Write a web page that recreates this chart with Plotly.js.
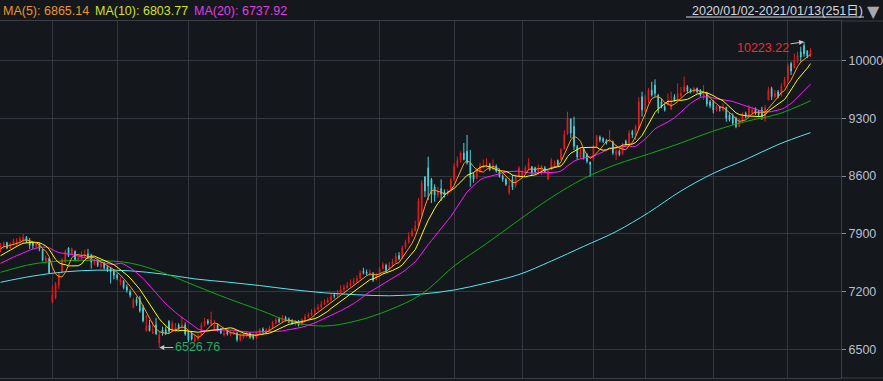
<!DOCTYPE html>
<html><head><meta charset="utf-8">
<script src="https://cdn.plot.ly/plotly-3.0.1.min.js"></script>
<style>html,body{margin:0;padding:0;background:#14171c;overflow:hidden}#c{width:883px;height:381px}</style>
</head><body><div id="c"></div>
<script>
// ---- data (trading days 2020/01/02 - 2021/01/13, 251 days) ----
const prevCloses = [7380,7400,7430,7420,7450,7470,7460,7490,7510,7520,7530,7540,7560,7570,7580,7650,7700,7720,7760];
const closes = [
7760,7790,7730,7780,7820,7810,7840,7860,7810,7760,
7760,7790,7720,7580,7610,7430,7160,7300,7420,7590,
7690,7640,7720,7590,7610,7640,7660,7620,7560,7580,
7520,7540,7490,7470,7440,7400,7370,7340,7250,7220,
7160,7100,7060,6970,6850,6780,6730,6720,6690,6680,
6700,6690,6720,6820,6770,6760,6800,6690,6620,6630,
6640,6660,6800,6840,6820,6860,6800,6740,6700,6700,
6690,6700,6710,6620,6670,6680,6700,6650,6640,6700,
6740,6720,6740,6760,6830,6860,6840,6880,6860,6840,
6820,6830,6800,6860,6900,6920,6950,6980,7010,7050,
7070,7100,7140,7150,7190,7230,7250,7280,7300,7330,
7360,7430,7430,7420,7430,7340,7410,7480,7530,7460,
7520,7560,7630,7600,7730,7800,7870,7930,8000,8300,
8520,8420,8480,8380,8370,8420,8380,8370,8410,8560,
8720,8790,8880,8800,8760,8580,8560,8660,8720,8720,
8740,8680,8720,8660,8600,8560,8500,8480,8470,8600,
8700,8640,8700,8760,8640,8650,8700,8720,8650,8660,
8790,8760,8740,8920,9100,9300,9120,8960,8830,8900,
8820,8780,8740,8960,9080,9040,9020,9000,9040,8880,
8900,8860,8960,8990,9120,9100,9200,9500,9400,9560,
9640,9580,9600,9420,9440,9400,9510,9480,9520,9600,
9600,9680,9630,9620,9660,9620,9580,9620,9470,9450,
9400,9440,9420,9440,9300,9280,9240,9200,9280,9350,
9330,9420,9400,9360,9340,9320,9430,9640,9560,9600,
9560,9690,9760,9930,9870,10000,10060,10040,10080,10050,10120];
const opens = [
7700,7750,7795,7730,7780,7790,7810,7830,7860,7820,
7790,7750,7780,7710,7570,7600,7080,7130,7280,7440,
7560,7730,7650,7690,7590,7600,7630,7660,7640,7540,
7580,7510,7540,7500,7480,7450,7400,7320,7330,7260,
7200,7010,7110,7120,7010,6730,6800,6700,6800,6580,
6740,6740,6840,6730,6720,6800,6770,6800,6720,6700,
6600,6630,6680,6790,6850,6810,6750,6800,6750,6680,
6720,6680,6690,6700,6620,6650,6670,6700,6670,6640,
6690,6750,6720,6730,6760,6820,6870,6840,6890,6870,
6850,6810,6840,6800,6860,6900,6920,6950,6990,7010,
7050,7070,7100,7160,7150,7190,7230,7250,7280,7300,
7330,7360,7450,7440,7410,7420,7350,7420,7480,7520,
7470,7520,7560,7640,7610,7740,7800,7880,7940,8000,
8140,8589,8700,8560,8470,8370,8450,8410,8380,8420,
8560,8720,8790,8880,8900,8760,8620,8580,8660,8700,
8720,8740,8680,8720,8660,8600,8560,8400,8560,8480,
8600,8590,8650,8690,8713,8700,8640,8660,8700,8560,
8680,8730,8790,8800,8930,9110,9290,9200,8960,8830,
8930,8860,8770,8800,8960,9070,9050,9030,9016,9016,
8860,8900,8870,9020,8990,9140,9100,9180,9560,9380,
9520,9640,9700,9580,9500,9440,9460,9410,9560,9520,
9570,9620,9680,9650,9620,9660,9640,9560,9600,9500,
9500,9400,9440,9400,9430,9340,9330,9300,9200,9270,
9360,9330,9360,9420,9380,9400,9290,9520,9660,9560,
9620,9580,9700,9760,9960,9910,9990,10100,10180,10110,10064];
const highs = [
7790,7810,7805,7795,7840,7850,7870,7900,7875,7850,
7800,7810,7790,7720,7640,7610,7280,7320,7440,7610,
7710,7740,7735,7700,7640,7690,7710,7720,7660,7600,
7600,7560,7560,7520,7500,7470,7420,7380,7340,7290,
7230,7125,7140,7150,7040,6920,6860,6840,6884,6718,
6778,6778,6859,6850,6823,6820,6900,6830,6738,6720,
6680,6690,6830,6884,6870,6960,6860,6820,6760,6730,
6740,6730,6740,6718,6700,6700,6720,6710,6690,6720,
6760,6770,6760,6790,6850,6890,6890,6920,6910,6890,
6870,6860,6860,6880,6930,6950,6990,7010,7050,7090,
7110,7130,7180,7190,7220,7280,7290,7320,7350,7370,
7400,7460,7490,7470,7470,7440,7430,7500,7560,7540,
7560,7600,7670,7680,7760,7830,7920,7970,8060,8334,
8553,8600,8834,8577,8500,8470,8560,8440,8440,8580,
8760,8834,8900,9000,9097,8915,8640,8700,8760,8800,
8818,8760,8800,8740,8690,8620,8580,8577,8613,8620,
8720,8673,8730,8818,8720,8713,8740,8735,8720,8673,
8818,8790,8800,8939,9157,9378,9296,9318,8976,8950,
8950,8875,8773,8980,9097,9090,9070,9050,9157,9030,
8976,8920,9000,9040,9157,9160,9220,9552,9620,9580,
9664,9741,9770,9590,9540,9470,9600,9620,9590,9722,
9680,9802,9700,9660,9680,9670,9650,9701,9620,9520,
9520,9460,9450,9480,9439,9360,9359,9318,9300,9370,
9380,9460,9440,9430,9400,9439,9460,9680,9680,9640,
9640,9722,9800,9963,9983,10084,10104,10164,10223.22,10124,10145];
const lows = [
7680,7720,7715,7720,7760,7760,7790,7780,7790,7720,
7720,7730,7690,7570,7540,7420,7060,7110,7230,7420,
7550,7620,7640,7570,7570,7590,7620,7600,7480,7520,
7500,7480,7470,7440,7300,7350,7340,7280,7230,7190,
7130,7000,7030,6950,6830,6718,6720,6690,6680,6526.76,
6670,6680,6700,6720,6710,6740,6758,6670,6596,6610,
6590,6610,6670,6780,6800,6790,6738,6720,6690,6660,
6670,6660,6680,6596,6600,6630,6650,6630,6620,6630,
6680,6700,6700,6720,6750,6810,6820,6830,6840,6820,
6800,6790,6780,6790,6850,6880,6910,6930,6970,7000,
7040,7060,7080,7120,7140,7180,7210,7240,7260,7290,
7310,7350,7410,7400,7390,7320,7340,7410,7470,7440,
7460,7500,7550,7580,7600,7720,7780,7860,7930,7984,
8105,8346,8311,8274,8290,8340,8300,8340,8360,8400,
8540,8700,8760,8790,8740,8470,8520,8560,8640,8690,
8700,8660,8670,8640,8580,8530,8480,8371,8432,8460,
8580,8580,8630,8673,8613,8620,8620,8610,8640,8553,
8673,8720,8720,8794,8915,9097,9060,8915,8794,8810,
8800,8754,8592,8780,8940,9010,9000,8980,9010,8855,
8794,8840,8855,8970,8980,9060,9036,9157,9318,9359,
9484,9560,9560,9359,9420,9380,9450,9399,9500,9510,
9550,9610,9600,9600,9600,9600,9560,9520,9439,9420,
9359,9380,9380,9380,9258,9260,9218,9178,9190,9250,
9300,9318,9340,9340,9310,9278,9258,9520,9520,9540,
9540,9560,9680,9722,9822,9903,9963,9983,10043,10024,10040];
// long moving averages (every 10th trading day)
const longMaDays = [0,10,20,30,40,50,60,70,80,90,100,110,120,130,140,150,160,170,180,190,200,210,220,230,240,250];
const ma60 = [7436,7536,7575,7578,7548,7433,7276,7121,6980,6835,6786,6850,6980,7173,7512,7784,8068,8340,8570,8740,8866,9000,9145,9260,9350,9510];
const ma120 = [7315,7391,7442,7462,7454,7415,7356,7318,7276,7227,7188,7165,7152,7173,7222,7307,7409,7572,7750,7929,8158,8419,8633,8800,8981,9125];
const monthStartIdx = [16,36,58,79,97,117,140,161,183,199,220,243];
const yTicks = [6500,7200,7900,8600,9300,10000];
const legendTexts = ['MA(5): 6865.14','MA(10): 6803.77','MA(20): 6737.92'];
const rangeText = '2020/01/02-2021/01/13(251日)';
const highIdx = 248, highVal = 10223.22, lowIdx = 49, lowVal = 6526.76;

// ---- build ----
const idx = closes.map((_, i) => i);
const all = prevCloses.concat(closes);
function movingAvg(n){
  return closes.map((_, i) => {
    const j = i + prevCloses.length; let s = 0;
    for (let k = j - n + 1; k <= j; k++) s += all[k];
    return s / n;
  });
}
const UP = '#e41c1c', DOWN = '#4fd0da';
const traces = [
  {type:'candlestick', x:idx, open:opens, high:highs, low:lows, close:closes,
   increasing:{line:{color:UP,width:1}, fillcolor:UP},
   decreasing:{line:{color:DOWN,width:1}, fillcolor:DOWN},
   whiskerwidth:0, hoverinfo:'skip'},
  {type:'scatter', mode:'lines', x:longMaDays, y:ma120, line:{color:'#5ae4ee',width:1,shape:'spline',smoothing:1}, hoverinfo:'skip'},
  {type:'scatter', mode:'lines', x:longMaDays, y:ma60, line:{color:'#12a812',width:1,shape:'spline',smoothing:1}, hoverinfo:'skip'},
  {type:'scatter', mode:'lines', x:idx, y:movingAvg(20), line:{color:'#ff18ff',width:1}, hoverinfo:'skip'},
  {type:'scatter', mode:'lines', x:idx, y:movingAvg(10), line:{color:'#ffff10',width:1}, hoverinfo:'skip'},
  {type:'scatter', mode:'lines', x:idx, y:movingAvg(5), line:{color:'#ff9a1e',width:1}, hoverinfo:'skip'}
];
const PW = 841, PH = 357;
const py = v => 1 + (21 - v) / PH;   // header pixel row -> paper y
const FONT = 'Liberation Sans, Arial, Noto Sans CJK SC, sans-serif';
const layout = {
  width:883, height:381, margin:{l:0,r:42,t:21,b:3,pad:0},
  paper_bgcolor:'#14171c', plot_bgcolor:'#14171c', showlegend:false, boxgap:0.68,
  font:{family:FONT, size:12.5, color:'#b4c0d4'},
  xaxis:{range:[-0.154,259.41], tickvals:monthStartIdx, showticklabels:false, ticks:'',
         showgrid:true, gridcolor:'#34373d', gridwidth:1, zeroline:false,
         showline:true, mirror:true, linecolor:'#3c3f45', linewidth:1,
         rangeslider:{visible:false}, fixedrange:true},
  yaxis:{side:'right', range:[6157.8,10475.3], tickvals:yTicks, ticktext:yTicks.map(String),
         ticks:'outside', ticklen:4, tickcolor:'#7f8da3', showgrid:true, gridcolor:'#34373d',
         zeroline:false, showline:true, linecolor:'#3c3f45', linewidth:1,
         tickfont:{family:FONT, size:12.5, color:'#b4c0d4'}, fixedrange:true},
  shapes:[
    {type:'line', xref:'paper', yref:'paper', x0:1, x1:883/PW, y0:1, y1:1, line:{color:'#3c3f45',width:1}},
    {type:'line', xref:'paper', yref:'paper', x0:1, x1:883/PW, y0:0, y1:0, line:{color:'#3c3f45',width:1}},
    {type:'line', xref:'paper', yref:'paper', x0:686/PW, x1:864/PW, y0:py(17), y1:py(17), line:{color:'#d0d6e2',width:1}}
  ],
  annotations:[
    {xref:'paper', yref:'paper', x:1/PW, y:py(10.5), xanchor:'left', yanchor:'middle', showarrow:false,
     text:legendTexts[0], font:{family:FONT,size:12.5,color:'#e8962a'}},
    {xref:'paper', yref:'paper', x:93/PW, y:py(10.5), xanchor:'left', yanchor:'middle', showarrow:false,
     text:legendTexts[1], font:{family:FONT,size:12.5,color:'#d2e12a'}},
    {xref:'paper', yref:'paper', x:191.5/PW, y:py(10.5), xanchor:'left', yanchor:'middle', showarrow:false,
     text:legendTexts[2], font:{family:FONT,size:12.5,color:'#e23ce2'}},
    {xref:'paper', yref:'paper', x:865/PW, y:py(10.5), xanchor:'right', yanchor:'middle', showarrow:false,
     text:rangeText, font:{family:FONT,size:12.5,color:'#d0d6e2'}},
    {xref:'paper', yref:'paper', x:873/PW, y:py(11), xanchor:'center', yanchor:'middle', showarrow:false,
     text:'▼', font:{family:'DejaVu Sans',size:16,color:'#a8a8a8'}},
    {x:highIdx, y:highVal, xref:'x', yref:'y', text:highVal.toFixed(2), showarrow:true,
     ax:-41, ay:6, arrowhead:2, arrowsize:1, arrowwidth:1, arrowcolor:'#c8c8c8', standoff:0,
     font:{family:FONT,size:12.5,color:'#e83030'}},
    {x:lowIdx, y:lowVal, xref:'x', yref:'y', text:lowVal.toFixed(2), showarrow:true,
     ax:38, ay:0, arrowhead:2, arrowsize:1, arrowwidth:1, arrowcolor:'#c8c8c8', standoff:0,
     font:{family:FONT,size:12.5,color:'#28a85c'}}
  ]
};
Plotly.newPlot('c', traces, layout, {staticPlot:true, displayModeBar:false});
</script>
</body></html>
